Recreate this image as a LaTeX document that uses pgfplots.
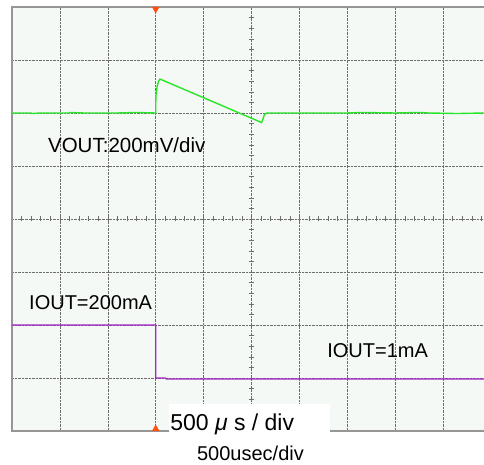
\documentclass[border=0pt]{standalone}
\usepackage{pgfplots}
\pgfplotsset{compat=1.18}
\usepackage{fontspec}
\setmainfont{Liberation Sans}
\definecolor{scrbg}{RGB}{244,249,246}
\definecolor{gridc}{RGB}{110,110,110}
\definecolor{bordc}{RGB}{150,150,150}
\definecolor{vgreen}{RGB}{40,230,40}
\definecolor{ipurple}{RGB}{165,35,200}
\definecolor{trig}{RGB}{255,80,20}
\begin{document}
\begin{tikzpicture}
\begin{axis}[
  at={(0,0)}, anchor=south west,
  scale only axis, width=472pt, height=424pt,
  xmin=0, xmax=9.854, ymin=0, ymax=8,
  xtick={1,...,9}, ytick={1,...,7},
  xticklabels={}, yticklabels={},
  major tick length=0pt,
  grid=major,
  grid style={gridc, densely dotted, line width=0.5pt},
  axis line style={draw=none},
  axis background/.style={fill=scrbg},
  clip=false,
]
% center graticule ticks
\pgfplotsinvokeforeach{0.2,0.4,...,9.81}{
  \draw[gridc, line width=0.5pt] (axis cs:#1,4) ++(0,-2.5pt) -- ++(0,5pt);
}
\pgfplotsinvokeforeach{0.2,0.4,...,7.81}{
  \draw[gridc, line width=0.5pt] (axis cs:5,#1) ++(-2.5pt,0) -- ++(5pt,0);
}
% screen border
\draw[bordc, line width=1.3pt] (axis cs:9.854,0) -- (axis cs:0,0) -- (axis cs:0,8) -- (axis cs:9.854,8);
% VOUT trace
\addplot[vgreen, line width=1.4pt] coordinates {
(0,6.0) (0.4,6.0) (0.41,5.99) (0.6,6.0) (1.2,6.0) (1.21,6.01) (1.5,6.0) (2.2,6.0) (2.6,6.01) (3.0,6.0)
(3.003,6.32) (3.03,6.5) (3.06,6.6) (3.09,6.64)
(5.21,5.82) (5.245,5.9) (5.27,5.97) (5.32,6.0)
(6.0,6.0) (7.0,6.0) (7.3,6.01) (8.0,6.0) (8.5,6.01) (8.7,6.0) (9.3,5.99) (9.854,6.0)
};
% IOUT trace
\addplot[ipurple, line width=1.3pt] coordinates {
(0,2.0) (3.0,2.0) (3.0,1.0) (3.2,1.0) (3.22,0.98) (9.854,0.98)
};
% trigger markers
\addplot[only marks, mark=triangle*, mark size=4pt, color=trig] coordinates {(3,0.038)};
\addplot[only marks, mark=triangle*, mark size=4pt, color=trig, mark options={rotate=180}] coordinates {(3,7.962)};
% labels
\fill[white] (axis cs:3.27,-0.12) rectangle (axis cs:6.64,0.51);
\node[anchor=base west, inner sep=0pt, font=\fontsize{20.5}{24}\selectfont] at (axis cs:0.75,5.264) {VOUT:200mV/div};
\node[anchor=base west, inner sep=0pt, font=\fontsize{20}{24}\selectfont] at (axis cs:0.355,2.30) {IOUT=200mA};
\node[anchor=base west, inner sep=0pt, font=\fontsize{20}{24}\selectfont] at (axis cs:6.58,1.396) {IOUT=1mA};
\node[anchor=base west, inner sep=0pt, font=\fontsize{23}{26}\selectfont] at (axis cs:3.30,0.0) {500 \textit{μ} s / div};
\node[anchor=base west, inner sep=0pt, font=\fontsize{20}{24}\selectfont] at (axis cs:3.86,-0.566) {500usec/div};
\end{axis}
\pgfresetboundingbox
\useasboundingbox (-12pt,-34pt) rectangle (472pt,431pt);
\end{tikzpicture}
\end{document}
